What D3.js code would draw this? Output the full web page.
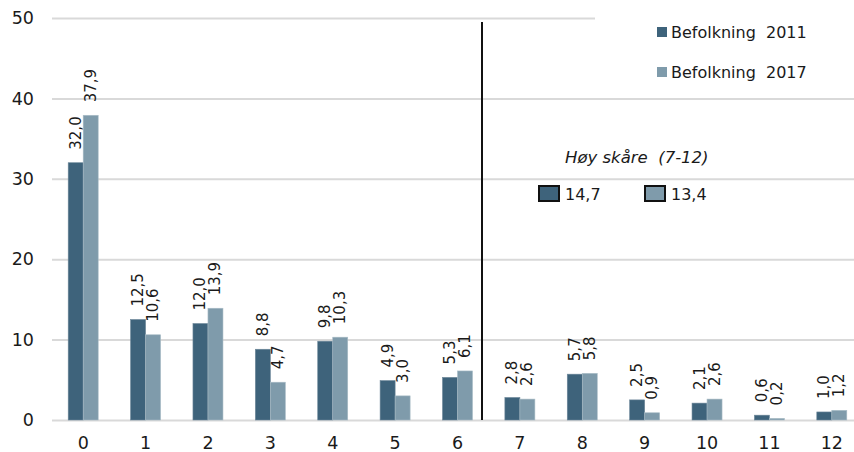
<!DOCTYPE html>
<html><head><meta charset="utf-8">
<script src="https://cdn.jsdelivr.net/npm/d3@7/dist/d3.min.js"></script>
<style>
html,body{margin:0;padding:0;background:#fff;}
text{font-family:"DejaVu Sans",sans-serif;fill:#1a1a1a;white-space:pre;}
</style></head>
<body>
<svg id="chart" width="854" height="452"></svg>
<script>
const categories = ["0","1","2","3","4","5","6","7","8","9","10","11","12"];
const values2011 = [32.0,12.5,12.0,8.8,9.8,4.9,5.3,2.8,5.7,2.5,2.1,0.6,1.0];
const values2017 = [37.9,10.6,13.9,4.7,10.3,3.0,6.1,2.6,5.8,0.9,2.6,0.2,1.2];
const seriesNames = ["Befolkning  2011","Befolkning  2017"];
const seriesColors = ["#3e637b","#7f9bab"];
const yTicks = [0,10,20,30,40,50];
const highLabel = "Høy skåre  (7-12)";
const highValues = [14.7,13.4];

const svg = d3.select("#chart");
const fmt = v => d3.format(".1f")(v).replace(".", ",");

const y = d3.scaleLinear().domain([0,50]).range([420,18]);
const x = d3.scaleBand().domain(categories).range([52,863]).paddingInner(0).paddingOuter(0);
const xs = d3.scaleBand().domain([0,1]).range([x.bandwidth()/2-15, x.bandwidth()/2+15]);

// gridlines
const gy = d3.axisLeft(y).tickValues(yTicks).tickSize(-(854-52)).tickFormat(d=>d);
const gAxis = svg.append("g").attr("transform","translate(52,0)").call(gy);
gAxis.select(".domain").remove();
gAxis.selectAll(".tick line").attr("stroke","#d9d9d9").attr("stroke-width",2);
gAxis.selectAll(".tick text").attr("x",-18).style("font-size","17.5px").attr("fill","#1a1a1a");

// legend background (covers top gridline)
svg.append("rect").attr("x",595).attr("y",0).attr("width",259).attr("height",92).attr("fill","#fff");

const series = [values2011, values2017];
series.forEach((vals, si) => {
  const g = svg.append("g");
  g.selectAll("rect").data(vals).join("rect")
    .attr("x",(d,i)=>x(categories[i])+xs(si))
    .attr("y",d=>y(d))
    .attr("width",xs.bandwidth())
    .attr("height",d=>y(0)-y(d))
    .attr("fill",seriesColors[si])
    .attr("stroke", si===0 ? "#6d8799" : "#a9bcc6")
    .attr("stroke-width",0.6);
  g.selectAll("text").data(vals).join("text")
    .attr("transform",(d,i)=>`translate(${x(categories[i])+xs(si)+xs.bandwidth()/2},${y(d)-13}) rotate(-90)`)
    .attr("dominant-baseline","central")
    .attr("text-anchor","start")
    .style("font-size","15px")
    .text(d=>fmt(d));
});

// x axis labels
const xa = d3.axisBottom(x).tickSize(0).tickPadding(0);
const xg = svg.append("g").attr("transform","translate(0,420)").call(xa);
xg.select(".domain").remove();
xg.selectAll(".tick text").attr("y",17).style("font-size","17.5px").attr("fill","#1a1a1a");

// divider
const divX = 482;
svg.append("line").attr("x1",divX).attr("x2",divX).attr("y1",22).attr("y2",y(0)).attr("stroke","#111").attr("stroke-width",2);

// legend
seriesNames.forEach((n,i)=>{
  const ly = 32 + i*40;
  svg.append("rect").attr("x",657).attr("y",ly-5).attr("width",10).attr("height",10).attr("fill",seriesColors[i]);
  svg.append("text").attr("x",671).attr("y",ly).attr("dominant-baseline","central").style("font-size","16px").text(n);
});

// high score annotation
svg.append("text").attr("x",565).attr("y",157).attr("dominant-baseline","central")
  .style("font-size","16.5px").style("font-style","italic").text(highLabel);
const boxX = [538,644];
highValues.forEach((v,i)=>{
  svg.append("rect").attr("x",boxX[i]+1).attr("y",186).attr("width",20).attr("height",15)
    .attr("fill",seriesColors[i]).attr("stroke","#111").attr("stroke-width",2);
  svg.append("text").attr("x",boxX[i]+27).attr("y",194).attr("dominant-baseline","central")
    .style("font-size","16px").text(fmt(v));
});
</script>
</body></html>
